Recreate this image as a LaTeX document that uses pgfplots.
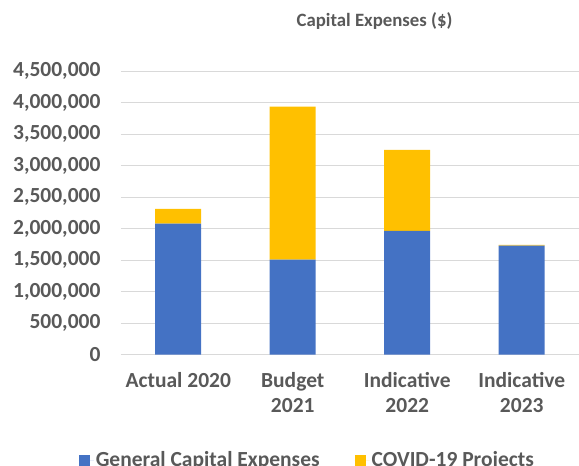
\documentclass[border=0pt]{standalone}
\usepackage{pgfplots}
\pgfplotsset{compat=1.18}
\usepackage{fontspec}
\setmainfont{Carlito}
\definecolor{gblue}{HTML}{4472C4}
\definecolor{gyellow}{HTML}{FFC000}
\definecolor{gtext}{HTML}{595959}
\definecolor{ggrid}{HTML}{D9D9D9}
\begin{document}
\begin{tikzpicture}[x=1pt,y=1pt]
\path[use as bounding box] (0,0) rectangle (579,466);
\node[anchor=base, text=gtext, font=\fontsize{18.8}{22}\selectfont\bfseries, inner sep=0] at (374.5,439) {Capital Expenses (\$)};
\begin{axis}[
  at={(121pt,111.3pt)}, anchor=south west,
  scale only axis, width=458pt, height=283.4pt,
  ybar stacked, bar width=46pt,
  xmin=-0.5, xmax=3.5, ymin=0, ymax=4500000,
  xtick={0,1,2,3},
  xticklabels={Actual 2020,{Budget\\2021},{Indicative\\2022},{Indicative\\2023}},
  ytick={0,500000,...,4500000},
  scaled y ticks=false,
  /pgf/number format/.cd, fixed, 1000 sep={,}, assume math mode=true, /pgfplots/.cd,
  tick label style={text=gtext, font=\fontsize{21.5}{25.5}\selectfont\bfseries},
  xticklabel style={align=center, yshift=-14pt},
  yticklabel style={xshift=-17pt},
  axis line style={draw=none},
  major tick length=0pt,
  ymajorgrids, grid style={ggrid, line width=1.2pt},
  legend columns=2,
  legend style={at={(0.407,-0.372)}, anchor=center, draw=none, fill=none,
    font=\fontsize{21.5}{25}\selectfont\bfseries, text=gtext,
    /tikz/every even column/.append style={column sep=33pt}},
  legend image code/.code={\fill[#1] (0pt,-5.5pt) rectangle (11pt,5.5pt); \path (0pt,0pt) -- (15pt,0pt);},
]
\addplot[fill=gblue, draw=none] coordinates {(0,2081000) (1,1509000) (2,1965000) (3,1732000)};
\addplot[fill=gyellow, draw=none] coordinates {(0,234000) (1,2432000) (2,1287000) (3,10000)};
\legend{General Capital Expenses, COVID-19 Projects}
\end{axis}
\end{tikzpicture}
\end{document}
